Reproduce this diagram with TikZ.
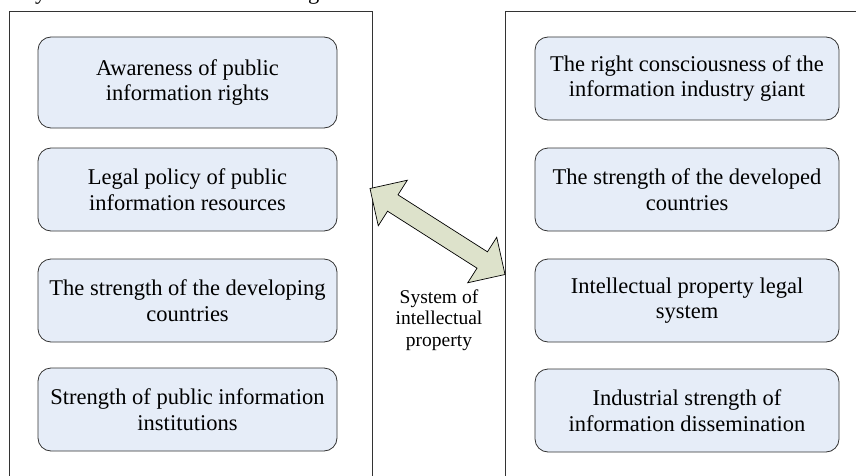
\documentclass[tikz,border=0pt]{standalone}
\usepackage{fontspec}
\setmainfont{Liberation Serif}
\usetikzlibrary{calc}
\definecolor{boxfill}{RGB}{230,237,248}
\definecolor{arrowfill}{RGB}{221,226,203}
\begin{document}
\begin{tikzpicture}[x=1pt,y=1pt,
  frame/.style={draw=black!80, line width=0.9pt, inner sep=0pt},
  item/.style={draw=black!80, line width=0.8pt, fill=boxfill, rounded corners=13pt,
    align=center, inner sep=0pt, font=\fontsize{22.5}{25.5}\selectfont},
  leftitem/.style={item, minimum width=299pt},
  rightitem/.style={item, minimum width=304pt},
  blockarrow/.style={draw=black, line width=0.7pt, fill=arrowfill, line join=miter},
  caption/.style={align=center, inner sep=0pt, font=\fontsize{19.5}{21.5}\selectfont},
  cut/.style={inner sep=0pt, anchor=base west, font=\fontsize{22.5}{25.5}\selectfont}
  ]
\clip (0,0) rectangle (856,475);
\fill[white] (0,0) rectangle (856,475);

% cut-off text at the top edge
\node[cut] (cuty) at (35,475) {y};
\node[cut] (cutg) at (308,475) {g};

% frames
\node[frame, minimum width=363pt, minimum height=469pt] (lframe) at (190.5,229.5) {};
\node[frame, minimum width=357pt, minimum height=469pt] (rframe) at (683.5,229.5) {};

% left items
\node[leftitem, minimum height=91pt] (l1) at (187.5,392.5) {Awareness of public\\information rights};
\node[leftitem, minimum height=83pt] (l2) at (187.5,285.5) {Legal policy of public\\information resources};
\node[leftitem, minimum height=83pt] (l3) at (187.5,174.5) {The strength of the developing\\countries};
\node[leftitem, minimum height=83pt] (l4) at (187.5,65.5) {Strength of public information\\institutions};

% right items
\node[rightitem, minimum height=83pt] (r1) at (687,396.5) {The right consciousness of the\\information industry giant};
\node[rightitem, minimum height=83pt] (r2) at (687,285.5) {The strength of the developed\\countries};
\node[rightitem, minimum height=83pt] (r3) at (687,174.5) {Intellectual property legal\\system};
\node[rightitem, minimum height=83pt] (r4) at (687,64.5) {Industrial strength of\\information dissemination};

% double block arrow
\coordinate (A) at (370,286.5);
\coordinate (B) at (505,200.5);
\coordinate (HA) at ($(A)!27pt!(B)$);
\coordinate (HB) at ($(B)!27pt!(A)$);
\draw[blockarrow] (A)
  -- ($(HA)!27pt!90:(B)$)
  -- ($(HA)!9.7pt!90:(B)$)
  -- ($(HB)!9.7pt!-90:(A)$)
  -- ($(HB)!27pt!-90:(A)$)
  -- (B)
  -- ($(HB)!27pt!90:(A)$)
  -- ($(HB)!9.7pt!90:(A)$)
  -- ($(HA)!9.7pt!-90:(B)$)
  -- ($(HA)!27pt!-90:(B)$)
  -- cycle;

\node[caption] (sys) at (439,155) {System of\\intellectual\\property};
\end{tikzpicture}
\end{document}
